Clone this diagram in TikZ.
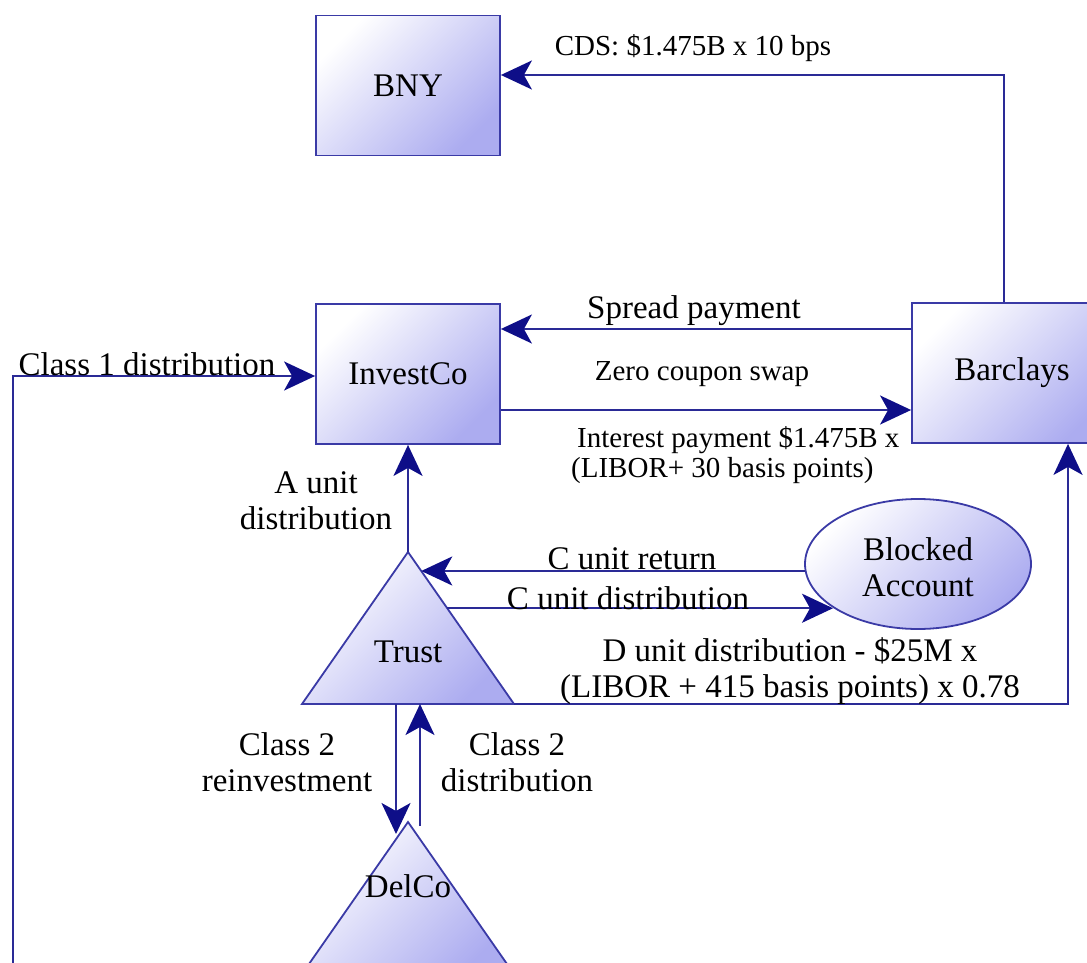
\documentclass[tikz,border=0pt]{standalone}
\usepackage{fontspec}
\setmainfont{Liberation Serif}
\usetikzlibrary{arrows.meta,shapes.geometric,calc}
\definecolor{boxline}{HTML}{3A3AA6}
\definecolor{arrline}{HTML}{2A2A96}
\definecolor{tipcol}{HTML}{0E0E88}
\definecolor{lav}{HTML}{ACACF0}
\tikzset{
  ent/.style={draw=boxline, line width=1.8pt, left color=white, right color=lav, shading angle=45},
  boxnode/.style={ent, rectangle, minimum width=184pt, minimum height=140pt, inner sep=0pt, font=\fontsize{33}{38}\selectfont},
  tx/.style={inner sep=0pt, font=\fontsize{33}{36}\selectfont, align=center},
  txs/.style={inner sep=0pt, font=\fontsize{29}{30}\selectfont, align=center},
  flow/.style={draw=arrline, line width=2pt, -{Stealth[length=31pt,width=29pt,inset=8pt,fill=tipcol,color=tipcol]}},
  plain/.style={draw=arrline, line width=2pt}
}
\begin{document}
\begin{tikzpicture}[x=1pt,y=-1pt]
\useasboundingbox (0,0) rectangle (1087,963);
\clip (0,0) rectangle (1087,963);
% boxes
\node[boxnode] (bny) at (408,85.5) {BNY};
\node[boxnode] (investco) at (408,374) {InvestCo};
\node[boxnode, minimum width=200pt, text width=200pt, align=center] (barclays) at (1012,373) {Barclays};
\node[ent, ellipse, minimum width=226pt, minimum height=130pt, inner sep=0pt] (blocked) at (918,564) {};
\node[tx] (blockedtxt) at (918,567) {Blocked\\Account};
% triangles
\coordinate (tA) at (408,552);
\coordinate (tL) at (302,704);
\coordinate (tR) at (514,704);
\shadedraw[ent] (tA) -- (tL) -- (tR) -- cycle;
\node[tx] (trust) at (408,652) {Trust};
\coordinate (dA) at (408,822);
\coordinate (dL) at (302,974);
\coordinate (dR) at (514,974);
\shadedraw[ent] (dA) -- (dL) -- (dR) -- cycle;
\node[tx] (delco) at (408,886) {DelCo};
% CDS
\coordinate (cdsc) at (1004,75);
\draw[flow] (barclays.north -| cdsc) -- (cdsc) -- (bny.east |- cdsc);
\node[txs] (cdsl) at (693,48) {CDS: \$1.475B x 10 bps};
% spread payment
\coordinate (sp) at (700,329);
\draw[flow] (barclays.west |- sp) -- (investco.east |- sp);
\node[tx] (spl) at (694,311) {Spread payment};
\node[txs] (zcs) at (702,374) {Zero coupon swap};
% interest
\coordinate (ip) at (700,410);
\draw[flow] (investco.east |- ip) -- (barclays.west |- ip);
\node[txs, align=left, anchor=north west] (ipl) at (571,426) {\hspace*{6pt}Interest payment \$1.475B x\\(LIBOR+ 30 basis points)};
% class 1
\coordinate (c1a) at (13,970);
\coordinate (c1b) at (13,376);
\draw[flow] (c1a) -- (c1b) -- (investco.west |- c1b);
\node[tx] (c1l) at (147,364) {Class 1 distribution};
% A unit
\draw[flow] (tA) -- (investco.south);
\node[tx] (aul) at (316,501) {A unit\\distribution};
% C unit return
\coordinate (cr1) at ($(blocked.center)+(-113,7)$);
\coordinate (cr2) at ($(tA)!0.125!(tR)$);
\draw[flow] (cr1) -- (cr1 -| cr2);
\node[tx] (crl) at (632,559) {C unit return};
% C unit distribution
\coordinate (cd1) at ($(tA)!0.37!(tR)$);
\draw[flow] (cd1) -- (cd1 -| 833,0);
\node[tx] (cdl) at (628,598) {C unit distribution};
% D unit
\coordinate (dd) at (1068,704);
\draw[flow] (tR) -- (dd) -- (dd |- barclays.south);
\node[tx] (ddl) at (790,671) {D unit distribution - \$25M x\\(LIBOR + 415 basis points) x 0.78};
% Class 2
\draw[flow] (396,704) -- (396,834);
\draw[flow] (420,826) -- (420,704);
\node[tx] (c2r) at (287,762) {Class 2\\reinvestment};
\node[tx] (c2d) at (517,762) {Class 2\\distribution};
\end{tikzpicture}
\end{document}
